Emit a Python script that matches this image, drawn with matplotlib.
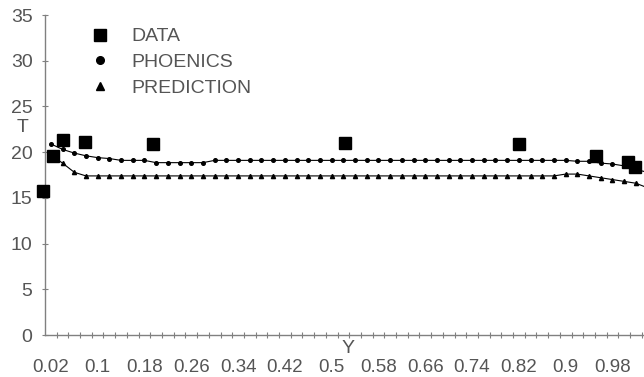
import matplotlib
matplotlib.use("Agg")
import matplotlib.pyplot as plt
from matplotlib.lines import Line2D
import numpy as np

plt.rcParams['font.family'] = ['Liberation Sans', 'DejaVu Sans']

# channel position categories (Y) used by the two simulated profiles
y_pos = [0.02, 0.04, 0.06, 0.08, 0.10, 0.12, 0.14, 0.16, 0.18, 0.20,
         0.22, 0.24, 0.26, 0.28, 0.30, 0.32, 0.34, 0.36, 0.38, 0.40,
         0.42, 0.44, 0.46, 0.48, 0.50, 0.52, 0.54, 0.56, 0.58, 0.60,
         0.62, 0.64, 0.66, 0.68, 0.70, 0.72, 0.74, 0.76, 0.78, 0.80,
         0.82, 0.84, 0.86, 0.88, 0.90, 0.92, 0.94, 0.96, 0.98, 1.00,
         1.02, 1.04]

phoenics = [20.9, 20.3, 19.9, 19.6, 19.4, 19.3, 19.1, 19.1, 19.1, 18.85,
            18.85, 18.85, 18.85, 18.85, 19.1, 19.1, 19.1, 19.1, 19.1, 19.1,
            19.1, 19.1, 19.1, 19.1, 19.1, 19.1, 19.1, 19.1, 19.1, 19.1,
            19.1, 19.1, 19.1, 19.1, 19.1, 19.1, 19.1, 19.1, 19.1, 19.1,
            19.1, 19.1, 19.1, 19.1, 19.1, 19.0, 19.0, 18.8, 18.7, 18.5,
            18.1, 17.8]

prediction = [19.7, 18.8, 17.8, 17.4, 17.4, 17.4, 17.4, 17.4, 17.4, 17.4,
              17.4, 17.4, 17.4, 17.4, 17.4, 17.4, 17.4, 17.4, 17.4, 17.4,
              17.4, 17.4, 17.4, 17.4, 17.4, 17.4, 17.4, 17.4, 17.4, 17.4,
              17.4, 17.4, 17.4, 17.4, 17.4, 17.4, 17.4, 17.4, 17.4, 17.4,
              17.4, 17.4, 17.4, 17.4, 17.6, 17.6, 17.4, 17.2, 17.0, 16.8,
              16.6, 16.1]

# measured points
data_y = [0.007, 0.023, 0.041, 0.079, 0.194, 0.522, 0.82, 0.952, 1.006, 1.019]
data_t = [15.7, 19.6, 21.3, 21.1, 20.9, 21.0, 20.85, 19.6, 18.9, 18.4]

tick_labels = ['0.02', '0.1', '0.18', '0.26', '0.34', '0.42', '0.5',
               '0.58', '0.66', '0.74', '0.82', '0.9', '0.98']

fig = plt.figure(figsize=(6.44, 3.77), dpi=100)
ax = fig.add_axes([45 / 644, 42 / 377, 599 / 644, 320 / 377])

ax.plot(y_pos, phoenics, color='black', lw=0.8, marker='o', ms=2.6,
        mfc='black', mec='black')
ax.plot(y_pos, prediction, color='black', lw=0.8, marker='^', ms=3,
        mfc='black', mec='black')
ax.plot(data_y, data_t, ls='none', marker='s', ms=8.5, color='black',
        clip_on=False, zorder=5)

ax.set_xlim(0.01, 0.01 + 599 / 11.7 * 0.02)
ax.set_ylim(0, 35)

grey = '#808080'
txt_col = '#555555'
for side in ['top', 'right']:
    ax.spines[side].set_visible(False)
for side in ['left', 'bottom']:
    ax.spines[side].set_color(grey)
    ax.spines[side].set_linewidth(1.0)

ax.set_yticks(np.arange(0, 36, 5))
ax.tick_params(axis='y', direction='inout', length=4, width=0.8,
               color=grey, labelsize=14, labelcolor=txt_col, pad=7)

label_pos = [float(t) for t in tick_labels]
ax.set_xticks(label_pos)
ax.set_xticklabels(tick_labels)
ax.set_xticks(np.arange(0.03, 1.05, 0.02), minor=True)
ax.tick_params(axis='x', which='major', length=0, labelsize=13.5,
               labelcolor=txt_col, pad=17)
ax.tick_params(axis='x', which='minor', direction='inout', length=4,
               width=0.8, color=grey)

ax.set_ylabel('T', rotation=0, fontsize=14, color=txt_col,
              ha='center', va='center')
ax.yaxis.set_label_coords(-0.038, 0.647)
ax.set_xlabel('Y', fontsize=14, color=txt_col, ha='center', va='center')
ax.xaxis.set_label_coords(0.506, -0.041)

handles = [
    Line2D([], [], ls='none', marker='s', ms=9, color='black'),
    Line2D([], [], ls='none', marker='o', ms=5.5, color='black'),
    Line2D([], [], ls='none', marker='^', ms=6, color='black'),
]
leg = ax.legend(handles, ['DATA', 'PHOENICS', 'PREDICTION'],
                loc='upper left', bbox_to_anchor=(0.047, 1.015),
                frameon=False, fontsize=14, labelspacing=0.42,
                handlelength=1.0, handletextpad=1.1)
for txt in leg.get_texts():
    txt.set_color(txt_col)

fig.savefig('out.png', dpi=100)
